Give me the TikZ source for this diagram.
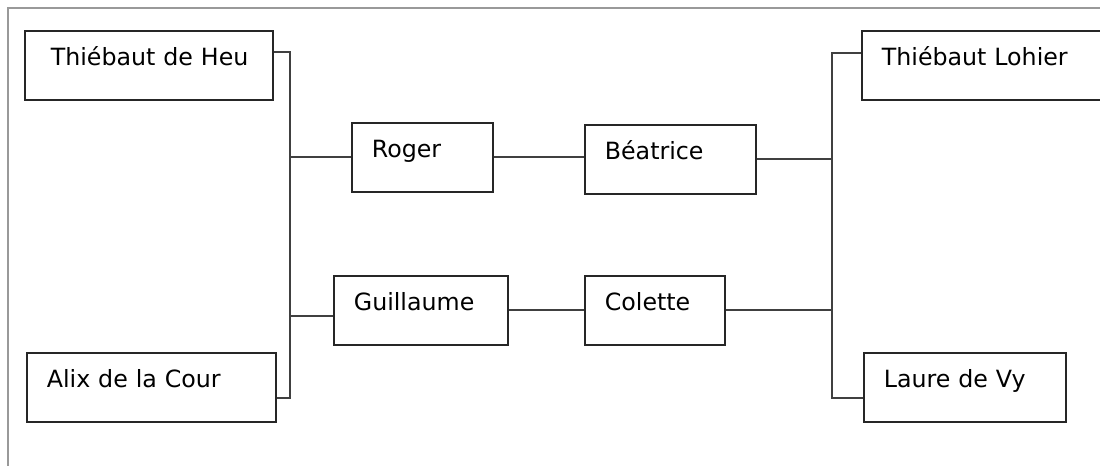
\documentclass[tikz,border=0pt]{standalone}
\usepackage{fontspec}
\setmainfont{DejaVu Sans}
\usepackage{tikz}
\usetikzlibrary{positioning}
\tikzset{
  person/.style={
    rectangle,
    draw=black!85,
    line width=1pt,
    anchor=north west,
    align=left,
    inner xsep=0.4cm,
    inner ysep=0pt,
    text height=0.7cm,
    text depth=0.68cm,
    font=\fontsize{13.5}{16}\selectfont
    },
  link/.style={draw=black!75, line width=1pt},
  frame/.style={draw=black!40, line width=0.6pt},
}

\begin{document}
\begin{tikzpicture}[
            x = 0.02cm, % one unit is one pixel
            y = -0.02cm % y runs downwards
        ]
    \useasboundingbox (0,0) rectangle (1100,466);
    \clip (0,0) rectangle (1100,466);
    \draw[frame] (1100,8) -- (8,8) -- (8,466);

    % left parents
    \node[person, text width=4.16cm] (tdh) at (24,30) {\hspace*{0.12cm}Thiébaut de Heu};
    \node[person, text width=4.18cm] (alix) at (26,352) {Alix de la Cour};
    % children
    \node[person, text width=2.02cm] (roger) at (351,122) {Roger};
    \node[person, text width=2.68cm] (guillaume) at (333,275) {Guillaume};
    \node[person, text width=2.62cm] (beatrice) at (584,124) {Béatrice};
    \node[person, text width=2.0cm] (colette) at (584,275) {Colette};
    % right parents
    \node[person, text width=4.2cm] (lohier) at (861,30) {Thiébaut Lohier};
    \node[person, text width=3.24cm] (laure) at (863,352) {Laure de Vy};

    \coordinate (lt) at (290,52);
    \coordinate (lb) at (290,398);
    \coordinate (lg) at (290,316);
    \coordinate (rt) at (832,53);
    \coordinate (rb) at (832,398);

    \draw[link] (tdh.east |- lt) -- (lt) -- (lb) -- (alix.east |- lb);
    \draw[link] (lt |- roger.west) -- (roger.west);
    \draw[link] (lg) -- (guillaume.west |- lg);
    \draw[link] (roger.east) -- (roger.east -| beatrice.west);
    \draw[link] (guillaume.east) -- (colette.west);
    \draw[link] (rt -| lohier.west) -- (rt) -- (rb) -- (laure.west |- rb);
    \draw[link] (beatrice.east) -- (beatrice.east -| rt);
    \draw[link] (colette.east) -- (colette.east -| rt);
\end{tikzpicture}
\end{document}
